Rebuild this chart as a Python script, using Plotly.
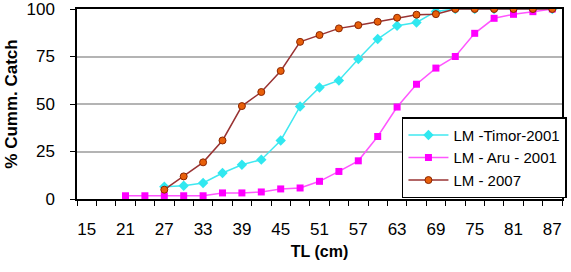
import plotly.graph_objects as go

tl = [15, 18, 21, 24, 27, 30, 33, 36, 39, 42, 45, 48, 51, 54, 57, 60, 63, 66, 69, 72, 75, 78, 81, 84, 87]
timor = [None, None, None, None, 6.5, 7, 8.4, 13.7, 18, 20.7, 30.8, 48.7, 58.7, 62.4, 73.7, 84.2,
         91.2, 92.9, 98.7, 100, 100, 100, 100, 100, 100]
aru = [None, None, 1.7, 1.7, 1.7, 1.7, 1.7, 3.2, 3.2, 3.7, 5.3, 5.8, 9.3, 14.5, 20.1, 32.9,
       48.4, 60.4, 68.9, 75, 87.2, 95.1, 97.2, 98.6, 100]
lm2007 = [None, None, None, None, 4.9, 11.9, 19.3, 30.8, 48.9, 56.3, 67.4, 82.7, 86.3, 89.8, 91.5, 93.3,
          95.4, 97, 97.3, 100, 100, 100, 100, 100, 100]
tick_labels = ["15", "21", "27", "33", "39", "45", "51", "57", "63", "69", "75", "81", "87"]
tick_vals = [int(t) for t in tick_labels]
y_ticks = [0, 25, 50, 75, 100]

fig = go.Figure()
fig.add_trace(go.Scatter(x=tl, y=timor, name="LM -Timor-2001", mode="lines+markers",
                         line=dict(color="#40E8F0", width=1.5),
                         marker=dict(symbol="diamond", size=8, color="#30E8F0")))
fig.add_trace(go.Scatter(x=tl, y=aru, name="LM - Aru - 2001", mode="lines+markers",
                         line=dict(color="#FF55FF", width=1.5),
                         marker=dict(symbol="square", size=7, color="#FF00FF")))
fig.add_trace(go.Scatter(x=tl, y=lm2007, name="LM - 2007", mode="lines+markers",
                         line=dict(color="#993333", width=1.5),
                         marker=dict(symbol="circle", size=7, color="#E8600A",
                                     line=dict(color="#8B2500", width=1))))

font = "Arial, Liberation Sans, sans-serif"
fig.update_layout(
    width=571, height=272,
    margin=dict(l=77, r=9, t=9, b=73, autoexpand=False),
    paper_bgcolor="white", plot_bgcolor="white",
    font=dict(family=font, size=13, color="black"),
    showlegend=True,
    legend=dict(x=0.67, y=0.43, xanchor="left", yanchor="top",
                bgcolor="white", bordercolor="black", borderwidth=1.5,
                font=dict(family=font, size=15, color="black"),
                tracegroupgap=0, itemwidth=40),
    xaxis=dict(range=[13.5, 88.5], tickvals=tick_vals, ticktext=tick_labels,
               ticks="", showgrid=False, zeroline=False, automargin=False,
               ticklabeloverflow="allow",
               showline=True, linecolor="black", linewidth=1.5, mirror=True,
               tickfont=dict(size=17), ticklabelstandoff=14,
               minor=dict(tick0=13.5, dtick=3, ticks="outside", ticklen=5,
                          tickcolor="black", tickwidth=1, showgrid=False),
               title=dict(text="<b>TL (cm)</b>", font=dict(size=16), standoff=8)),
    yaxis=dict(range=[0, 100], tickvals=y_ticks, ticks="outside", ticklen=5,
               tickcolor="black", showgrid=True, gridcolor="#B4B4B4", gridwidth=2,
               zeroline=False, showline=True, linecolor="black", linewidth=1.5, mirror=True,
               tickfont=dict(size=17), ticklabelstandoff=12, automargin=False,
               ticklabeloverflow="allow",
               title=dict(text="<b>% Cumm. Catch</b>", font=dict(size=17), standoff=5)),
)

fig.write_html("out.html")
